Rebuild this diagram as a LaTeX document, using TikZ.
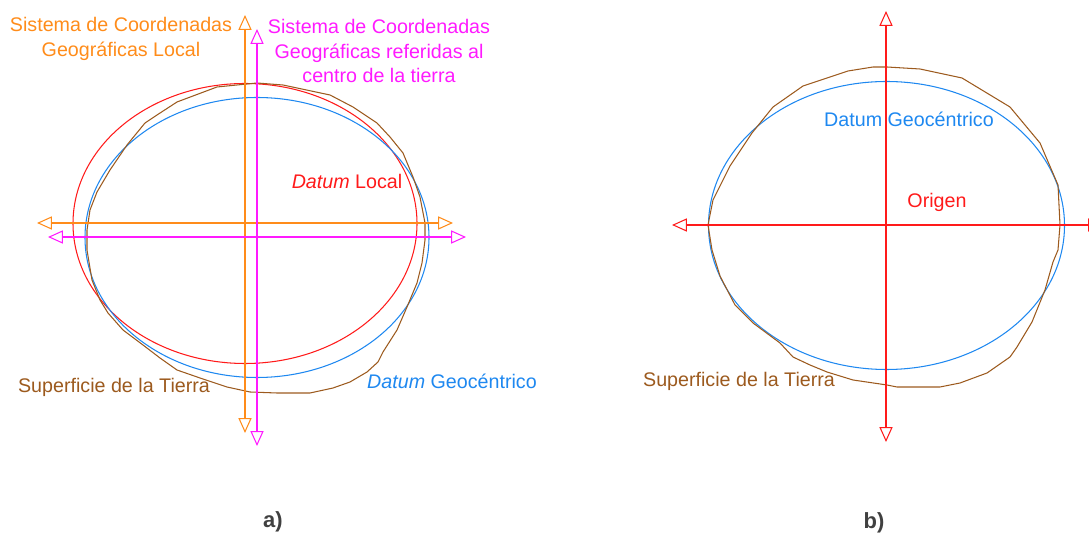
\documentclass[tikz,border=0pt]{standalone}
\usepackage{fontspec}
\setmainfont{Liberation Sans}
\usetikzlibrary{arrows.meta}
\definecolor{naranja}{HTML}{FF8C1A}
\definecolor{magenta}{HTML}{FF1AFF}
\definecolor{rojo}{HTML}{FF1A1A}
\definecolor{azul}{HTML}{1E88F0}
\definecolor{marron}{HTML}{9C5A1E}
\definecolor{gris}{HTML}{404040}

\begin{document}
\begin{tikzpicture}[x=0.02cm, y=-0.02cm, line width=0.6pt,
    font=\fontsize{11.2}{14.2}\selectfont,
    eje/.style={{Triangle[open, length=8.5pt, width=7.5pt]}-{Triangle[open, length=8.5pt, width=7.5pt]}},
    rotulo/.style={inner sep=0pt, align=center},
    panel/.style={inner sep=0pt, gris, font=\fontsize{12.5}{15}\selectfont\bfseries}]

  \useasboundingbox (0,0) rectangle (1089,536);

  % ===================== a) =====================
  % --- Datum local y datum geocéntrico ---
  \draw[rojo] (245,223.5) ellipse [x radius=172, y radius=140];
  \draw[azul] (257,237.5) ellipse [x radius=172, y radius=140];

  % --- Superficie de la Tierra ---
  \draw[marron, line join=round]
    (257,83) -- (283,85) -- (330,95) -- (353,107) -- (377,123) -- (390,137)
    -- (403,153) -- (413,177) -- (420,197) -- (425,223) -- (425,240)
    -- (422,263) -- (417,283) -- (407,307) -- (397,330) -- (383,352)
    -- (378,362) -- (367,372) -- (350,382) -- (333,388) -- (310,393)
    -- (277,393) -- (250,392) -- (227,387) -- (200,378) -- (177,370)
    -- (160,358) -- (143,345) -- (123,330) -- (108,313) -- (100,300)
    -- (92,280) -- (87,250) -- (87,230) -- (90,210) -- (97,192)
    -- (110,170) -- (127,145) -- (145,123) -- (157,115) -- (177,102)
    -- (217,87) -- cycle;

  % --- Ejes del sistema local (naranja) y geocéntrico (magenta) ---
  \coordinate (locN) at (245,15);
  \coordinate (locS) at (245,433);
  \coordinate (locW) at (37,223);
  \coordinate (locE) at (453,223);
  \coordinate (geoN) at (257,29);
  \coordinate (geoS) at (257,446);
  \coordinate (geoW) at (48,237);
  \coordinate (geoE) at (466,237);
  \draw[eje, naranja] (locW) -- (locE);
  \draw[eje, naranja] (locS) -- (locN);
  \draw[eje, magenta] (geoW) -- (geoE);
  \draw[eje, magenta] (geoS) -- (geoN);

  % --- Rótulos ---
  \node[rotulo, naranja] (txtLoc) at (121,39)
    {Sistema de Coordenadas\\Geográficas Local};
  \node[rotulo, magenta] (txtGeo) at (379,51)
    {Sistema de Coordenadas\\Geográficas referidas al\\centro de la tierra};
  \node[rotulo, rojo] (txtDatLoc) at (347,181) {\textit{Datum} Local};
  \node[rotulo, marron] (txtSupA) at (114,387) {Superficie de la Tierra};
  \node[rotulo, azul] (txtDatGeoA) at (452,381) {\textit{Datum} Geocéntrico};
  \node[panel] (lblA) at (273,522) {a)};

  % ===================== b) =====================
  \draw[azul] (886.5,225.5) ellipse [x radius=178, y radius=144];

  \draw[marron, line join=round]
    (887,67) -- (920,69) -- (962,78) -- (1010,107) -- (1040,143)
    -- (1058,185) -- (1060,225) -- (1058,250) -- (1053,262) -- (1045,290)
    -- (1032,322) -- (1017,347) -- (1010,357) -- (987,373) -- (960,383)
    -- (940,387) -- (897,387) -- (887,385) -- (853,380) -- (827,372)
    -- (810,365) -- (793,357) -- (780,343) -- (753,323) -- (735,305)
    -- (720,276) -- (712,250) -- (708,225) -- (713,200) -- (730,166)
    -- (752,133) -- (773,107) -- (803,86) -- (848,71) -- (873,67) -- cycle;

  % --- Ejes con origen en el centro de la Tierra ---
  \coordinate (cenN) at (886,11);
  \coordinate (cenS) at (886,442);
  \coordinate (cenW) at (672,225);
  \coordinate (cenE) at (1103,225);
  \draw[eje, rojo] (cenW) -- (cenE);
  \draw[eje, rojo] (cenS) -- (cenN);

  \node[rotulo, azul] (txtDatGeoB) at (909,119) {Datum Geocéntrico};
  \node[rotulo, rojo] (txtOrigen) at (937,202) {Origen};
  \node[rotulo, marron] (txtSupB) at (739,381) {Superficie de la Tierra};
  \node[panel] (lblB) at (874,523) {b)};

\end{tikzpicture}
\end{document}
